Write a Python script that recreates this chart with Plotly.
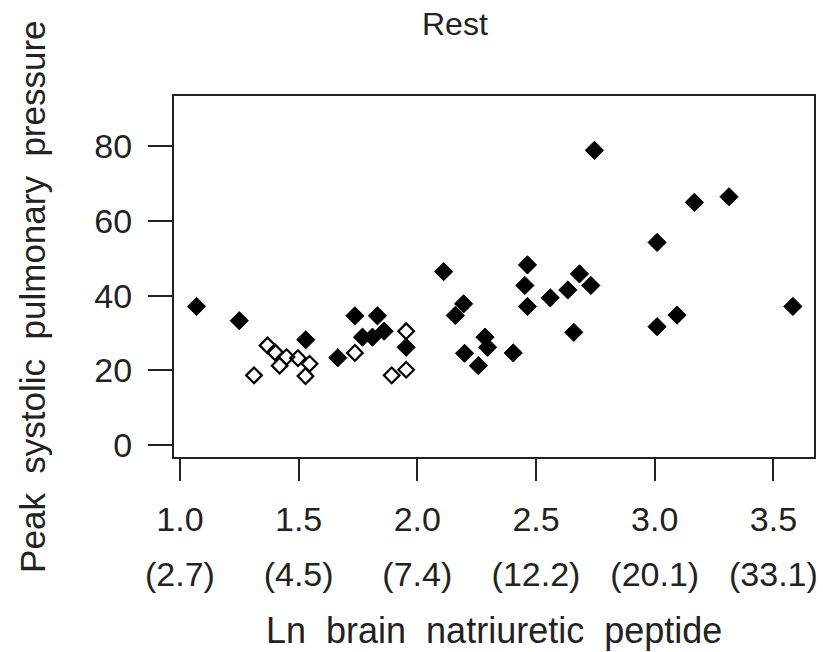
import plotly.graph_objects as go

filled_x = [1.07, 1.25, 1.53, 1.665, 1.737, 1.832, 1.769, 1.811, 1.86, 1.953, 2.111,
            2.16, 2.195, 2.199, 2.257, 2.285, 2.296,
            2.746, 3.167, 3.313, 3.01, 2.464, 2.453, 2.464, 2.56, 2.634, 2.683, 2.731,
            2.659, 3.01, 3.094, 3.582, 2.404]
filled_y = [37.1, 33.3, 28.2, 23.4, 34.6, 34.6, 28.9, 28.9, 30.5, 26.2, 46.4,
            34.7, 37.8, 24.6, 21.3, 28.9, 26.2,
            78.8, 64.9, 66.4, 54.2, 48.2, 42.7, 37.1, 39.4, 41.5, 45.8, 42.7,
            30.2, 31.7, 34.8, 37.1, 24.7]
open_x = [1.312, 1.369, 1.40, 1.42, 1.449, 1.497, 1.546, 1.529, 1.737, 1.953, 1.892, 1.953]
open_y = [18.7, 26.7, 24.9, 21.3, 23.6, 23.3, 21.8, 18.5, 24.7, 30.5, 18.7, 20.2]

x_ticks = [1.0, 1.5, 2.0, 2.5, 3.0, 3.5]
x_labels = ["1.0", "1.5", "2.0", "2.5", "3.0", "3.5"]
x_labels2 = ["(2.7)", "(4.5)", "(7.4)", "(12.2)", "(20.1)", "(33.1)"]
y_ticks = [0, 20, 40, 60, 80]

FONT = "Liberation Sans, Arial, sans-serif"
TICKFONT = dict(family=FONT, size=34, color="#222")

fig = go.Figure()
fig.add_trace(go.Scatter(x=filled_x, y=filled_y, mode="markers",
                         marker=dict(symbol="diamond", size=14, color="black",
                                     line=dict(width=1, color="black")),
                         showlegend=False))
fig.add_trace(go.Scatter(x=open_x, y=open_y, mode="markers",
                         marker=dict(symbol="diamond-open", size=12, color="black",
                                     line=dict(width=2.2, color="black")),
                         showlegend=False))
# invisible trace to activate the second x axis (bracketed labels)
fig.add_trace(go.Scatter(x=[x_ticks[0]], y=[y_ticks[0]], xaxis="x2", mode="markers",
                         marker=dict(opacity=0), showlegend=False, hoverinfo="skip"))

fig.update_layout(
    width=823, height=652,
    margin=dict(l=174, r=5, t=96, b=195),
    paper_bgcolor="white", plot_bgcolor="white",
    xaxis=dict(range=[0.975, 3.671], tickvals=x_ticks, ticktext=x_labels,
               ticks="outside", ticklen=22, tickwidth=2, tickcolor="#222",
               showline=True, linewidth=2, linecolor="#222", mirror=True,
               showgrid=False, zeroline=False, tickfont=TICKFONT,
               ticklabelstandoff=9, ticklabeloverflow="allow"),
    xaxis2=dict(matches="x", overlaying="x", anchor="y", side="bottom",
                tickvals=x_ticks, ticktext=x_labels2, ticks="",
                showline=False, showgrid=False, zeroline=False,
                tickfont=TICKFONT, ticklabelstandoff=94, ticklabeloverflow="allow"),
    yaxis=dict(range=[-3.1, 93.3], tickvals=y_ticks,
               ticks="outside", ticklen=24, tickwidth=2, tickcolor="#222",
               showline=True, linewidth=2, linecolor="#222", mirror=True,
               showgrid=False, zeroline=False, tickfont=TICKFONT,
               ticklabelstandoff=9),
    annotations=[
        dict(text="Rest", xref="paper", yref="paper",
             x=(457 - 174) / 644, y=(457 - 24) / 361, showarrow=False,
             xanchor="center", yanchor="middle",
             font=dict(family=FONT, size=32, color="#222")),
        dict(text="Ln\u00a0 brain\u00a0 natriuretic\u00a0 peptide", xref="paper", yref="paper",
             x=0.5, y=(457 - 630) / 361, showarrow=False,
             xanchor="center", yanchor="middle",
             font=dict(family=FONT, size=36, color="#222")),
        dict(text="Peak\u00a0 systolic\u00a0 pulmonary\u00a0 pressure", xref="paper", yref="paper",
             x=(31 - 174) / 644, y=(457 - 297) / 361, showarrow=False, textangle=-90,
             xanchor="center", yanchor="middle",
             font=dict(family=FONT, size=35, color="#222")),
    ],
)

fig.write_html("out.html")
